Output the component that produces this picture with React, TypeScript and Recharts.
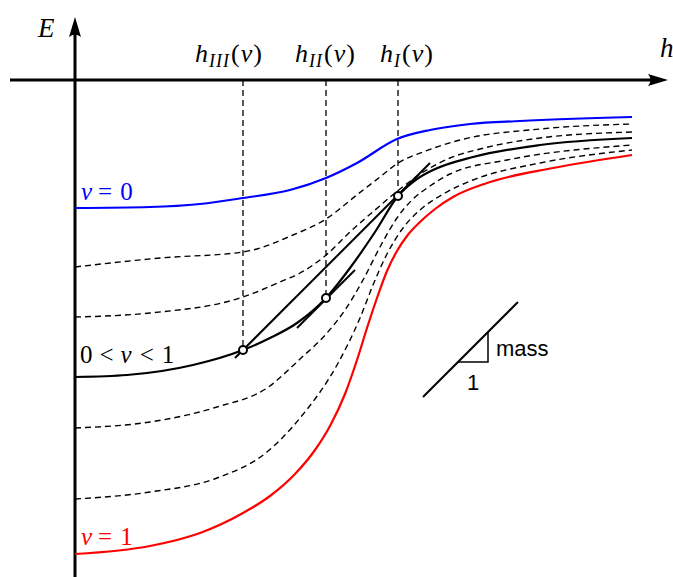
import { ComposedChart, Line, XAxis, YAxis, ReferenceLine, ReferenceDot, Scatter } from 'recharts'

// E(h) curves; h from the E axis, E negative below the h axis
const NU0 = [
  { h: 0, E: -1.28 }, { h: 0.75, E: -1.27 }, { h: 1.25, E: -1.24 }, { h: 1.68, E: -1.18 },
  { h: 2.15, E: -1.1 }, { h: 2.51, E: -0.98 }, { h: 2.82, E: -0.83 }, { h: 3.22, E: -0.59 },
  { h: 3.55, E: -0.5 }, { h: 3.95, E: -0.44 }, { h: 4.45, E: -0.41 }, { h: 5.57, E: -0.37 },
]

const DASH_A = [
  { h: 0, E: -1.87 }, { h: 0.85, E: -1.78 }, { h: 1.68, E: -1.72 }, { h: 2.18, E: -1.55 },
  { h: 2.51, E: -1.39 }, { h: 2.83, E: -1.14 }, { h: 3.05, E: -0.97 }, { h: 3.23, E: -0.83 },
  { h: 3.48, E: -0.72 }, { h: 3.85, E: -0.6 }, { h: 4.65, E: -0.49 }, { h: 5.57, E: -0.44 },
]

const DASH_B = [
  { h: 0, E: -2.37 }, { h: 0.75, E: -2.33 }, { h: 1.68, E: -2.17 }, { h: 2.05, E: -2.02 },
  { h: 2.25, E: -1.93 }, { h: 2.5, E: -1.76 }, { h: 2.75, E: -1.52 }, { h: 3.0, E: -1.3 },
  { h: 3.25, E: -1.09 }, { h: 3.5, E: -0.91 }, { h: 3.75, E: -0.78 }, { h: 4.05, E: -0.69 },
  { h: 4.65, E: -0.58 }, { h: 5.57, E: -0.52 },
]

const NU_MID = [
  { h: 0, E: -2.97 }, { h: 0.52, E: -2.95 }, { h: 1.18, E: -2.85 }, { h: 1.68, E: -2.7 },
  { h: 1.95, E: -2.58 }, { h: 2.22, E: -2.43 }, { h: 2.51, E: -2.18 }, { h: 2.75, E: -1.88 },
  { h: 3.0, E: -1.52 }, { h: 3.23, E: -1.16 }, { h: 3.42, E: -0.99 }, { h: 3.58, E: -0.9 },
  { h: 3.98, E: -0.77 }, { h: 4.65, E: -0.65 }, { h: 5.57, E: -0.58 },
]

const DASH_C = [
  { h: 0, E: -3.48 }, { h: 0.75, E: -3.42 }, { h: 1.42, E: -3.27 }, { h: 1.92, E: -3.08 },
  { h: 2.25, E: -2.79 }, { h: 2.52, E: -2.53 }, { h: 2.7, E: -2.3 }, { h: 2.88, E: -2.0 },
  { h: 3.05, E: -1.67 }, { h: 3.22, E: -1.38 }, { h: 3.37, E: -1.2 }, { h: 3.55, E: -1.06 },
  { h: 3.75, E: -0.94 }, { h: 4.32, E: -0.8 }, { h: 5.57, E: -0.65 },
]

const DASH_D = [
  { h: 0, E: -4.19 }, { h: 0.75, E: -4.12 }, { h: 1.42, E: -3.98 }, { h: 1.92, E: -3.72 },
  { h: 2.25, E: -3.38 }, { h: 2.62, E: -2.85 }, { h: 2.85, E: -2.38 }, { h: 2.98, E: -2.05 },
  { h: 3.12, E: -1.74 }, { h: 3.28, E: -1.48 }, { h: 3.45, E: -1.3 }, { h: 3.7, E: -1.13 },
  { h: 3.98, E: -1.0 }, { h: 4.65, E: -0.83 }, { h: 5.57, E: -0.7 },
]

const NU1 = [
  { h: 0, E: -4.74 }, { h: 0.75, E: -4.66 }, { h: 1.25, E: -4.53 }, { h: 1.68, E: -4.33 },
  { h: 1.95, E: -4.16 }, { h: 2.2, E: -3.94 }, { h: 2.4, E: -3.7 }, { h: 2.55, E: -3.46 },
  { h: 2.7, E: -3.14 }, { h: 2.82, E: -2.8 }, { h: 2.92, E: -2.48 }, { h: 3.02, E: -2.18 },
  { h: 3.12, E: -1.91 }, { h: 3.22, E: -1.71 }, { h: 3.32, E: -1.56 }, { h: 3.45, E: -1.42 },
  { h: 3.6, E: -1.29 }, { h: 3.78, E: -1.17 }, { h: 4.12, E: -1.03 }, { h: 4.78, E: -0.88 },
  { h: 5.57, E: -0.75 },
]

// tangent points h_III, h_II, h_I
const TOUCH = [
  { h: 1.68, E: -2.7 }, { h: 2.51, E: -2.18 }, { h: 3.23, E: -1.16 },
]
const TOUCH_LABELS = ['III', 'II', 'I']

// slope-1 lines
const TANGENT_LONG = [{ h: 1.6, E: -2.78 }, { h: 3.55, E: -0.83 }]
const TANGENT_SHORT = [{ h: 2.22, E: -2.48 }, { h: 2.8, E: -1.9 }]
const MASS_LINE = [{ h: 3.48, E: -3.17 }, { h: 4.43, E: -2.22 }]
const MASS_TRIANGLE = [{ h: 3.83, E: -2.82 }, { h: 4.13, E: -2.82 }, { h: 4.13, E: -2.52 }]

const W = 673
const H = 577
const MATH = '"Liberation Serif", "DejaVu Serif", serif'
const SANS = '"Liberation Sans", Arial, sans-serif'

const upArrow = ({ cx, cy }: any) => (
  <path d={`M${cx},${cy} L${cx + 6},${cy + 20} Q${cx},${cy + 15} ${cx - 6},${cy + 20} Z`} fill="#000" />
)
const rightArrow = ({ cx, cy }: any) => (
  <path d={`M${cx},${cy} L${cx - 20},${cy - 6} Q${cx - 15},${cy} ${cx - 20},${cy + 6} Z`} fill="#000" />
)

// parts: [text, italic, dx]
type Part = [string, boolean, number]
const mathText = (parts: Part[], color = '#000', size = 25) => ({ cx, cy }: any) => (
  <text x={cx} y={cy} fill={color} fontFamily={MATH} fontSize={size}>
    {parts.map(([t, it, dx], i) => (
      <tspan key={i} dx={dx} fontStyle={it ? 'italic' : 'normal'}>{t}</tspan>
    ))}
  </text>
)

const hLabel = (sub: string) => ({ cx, cy }: any) => (
  <text x={cx} y={cy} fill="#000" fontFamily={MATH} fontSize={26} fontStyle="italic">
    h
    <tspan fontSize={18} dy={5} dx={1} letterSpacing={1}>{sub}</tspan>
    <tspan dy={-5} dx={1} fontStyle="normal">(</tspan>
    <tspan dx={1}>ν</tspan>
    <tspan dx={1} fontStyle="normal">)</tspan>
  </text>
)

const plainText = (txt: string) => ({ cx, cy }: any) => (
  <text x={cx} y={cy} fill="#000" fontFamily={SANS} fontSize={22}>{txt}</text>
)

const circleShape = ({ cx, cy }: any) => (
  <circle cx={cx} cy={cy} r={4} fill="#fff" stroke="#000" strokeWidth={2} />
)

export default function App() {
  const curve = (data: any[], key: string, color: string, dashed = false) => (
    <Line
      key={key}
      data={data}
      dataKey="E"
      type="monotone"
      stroke={color}
      strokeWidth={dashed ? 1.4 : 2.2}
      strokeDasharray={dashed ? '6 4' : undefined}
      dot={false}
      activeDot={false}
      isAnimationActive={false}
    />
  )
  const straight = (data: any[], key: string, width = 2) => (
    <Line
      key={key}
      data={data}
      dataKey="E"
      type="linear"
      stroke="#000"
      strokeWidth={width}
      dot={false}
      activeDot={false}
      isAnimationActive={false}
    />
  )

  return (
    <div style={{ position: 'absolute', left: 0, top: 0, width: W, height: H, background: '#fff' }}>
      <ComposedChart width={W} height={H} margin={{ top: 0, right: 0, bottom: 0, left: 0 }}>
        <XAxis type="number" dataKey="h" domain={[-0.75, 5.98]} hide allowDataOverflow />
        <YAxis type="number" dataKey="E" domain={[-4.97, 0.8]} hide allowDataOverflow />

        {/* axes */}
        <ReferenceLine segment={[{ x: 0, y: -4.97 }, { x: 0, y: 0.5 }]} stroke="#000" strokeWidth={3} />
        <ReferenceLine segment={[{ x: -0.65, y: 0 }, { x: 5.8, y: 0 }]} stroke="#000" strokeWidth={3} />
        <ReferenceDot x={0} y={0.63} shape={upArrow} />
        <ReferenceDot x={5.93} y={0} shape={rightArrow} />

        {/* drop lines from the tangent points */}
        {TOUCH.map((p) => (
          <ReferenceLine
            key={p.h}
            segment={[{ x: p.h, y: 0 }, { x: p.h, y: p.E }]}
            stroke="#000"
            strokeWidth={1.3}
            strokeDasharray="6 4"
          />
        ))}

        {curve(DASH_A, 'a', '#000', true)}
        {curve(DASH_B, 'b', '#000', true)}
        {curve(DASH_C, 'c', '#000', true)}
        {curve(DASH_D, 'd', '#000', true)}
        {curve(NU0, 'nu0', '#0000ff')}
        {curve(NU1, 'nu1', '#ff0000')}
        {curve(NU_MID, 'mid', '#000')}

        {straight(TANGENT_LONG, 'tl')}
        {straight(TANGENT_SHORT, 'ts')}
        {straight(MASS_LINE, 'ml')}
        {straight(MASS_TRIANGLE, 'mt', 1.5)}

        <Scatter data={TOUCH} shape={circleShape} isAnimationActive={false} />

        {/* labels */}
        <ReferenceDot x={-0.37} y={0.43} shape={mathText([['E', true, 0]], '#000', 27)} />
        <ReferenceDot x={5.85} y={0.23} shape={mathText([['h', true, 0]], '#000', 27)} />
        {TOUCH.map((p, i) => (
          <ReferenceDot
            key={TOUCH_LABELS[i]}
            x={[1.2, 2.2, 3.05][i]}
            y={0.18}
            shape={hLabel(TOUCH_LABELS[i])}
          />
        ))}
        <ReferenceDot
          x={0.06}
          y={-1.2}
          shape={mathText([['ν', true, 0], ['=', false, 6], ['0', false, 8]], '#0000ff')}
        />
        <ReferenceDot
          x={0.05}
          y={-2.83}
          shape={mathText([['0', false, 0], ['<', false, 7], ['ν', true, 7], ['<', false, 8], ['1', false, 8]])}
        />
        <ReferenceDot
          x={0.06}
          y={-4.65}
          shape={mathText([['ν', true, 0], ['=', false, 6], ['1', false, 8]], '#ff0000')}
        />
        <ReferenceDot x={4.21} y={-2.76} shape={plainText('mass')} />
        <ReferenceDot x={3.92} y={-3.1} shape={plainText('1')} />
      </ComposedChart>
    </div>
  )
}
